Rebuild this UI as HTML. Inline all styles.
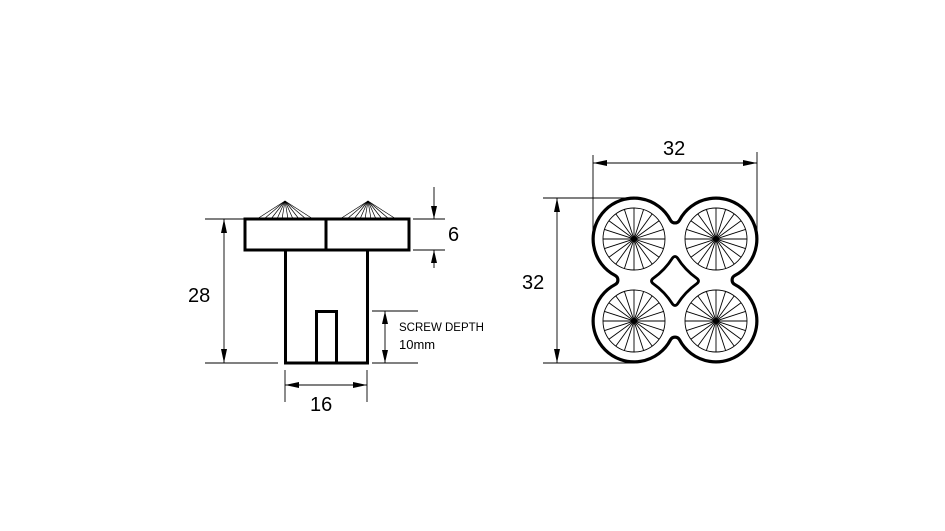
<!DOCTYPE html>
<html><head><meta charset="utf-8"><style>html,body{margin:0;padding:0;background:#fff}svg{display:block}</style></head>
<body>
<svg width="945" height="531" viewBox="0 0 945 531" xmlns="http://www.w3.org/2000/svg" font-family="Liberation Sans, sans-serif">
<defs>
<g id="sp" stroke="#000" stroke-width="0.9">
<circle r="31" fill="none"/>
<line x1="31" y1="0" x2="-31" y2="0"/><line x1="29.48" y1="9.58" x2="-29.48" y2="-9.58"/>
<line x1="25.08" y1="18.22" x2="-25.08" y2="-18.22"/><line x1="18.22" y1="25.08" x2="-18.22" y2="-25.08"/>
<line x1="9.58" y1="29.48" x2="-9.58" y2="-29.48"/><line x1="0" y1="31" x2="0" y2="-31"/>
<line x1="-9.58" y1="29.48" x2="9.58" y2="-29.48"/><line x1="-18.22" y1="25.08" x2="18.22" y2="-25.08"/>
<line x1="-25.08" y1="18.22" x2="25.08" y2="-18.22"/><line x1="-29.48" y1="9.58" x2="29.48" y2="-9.58"/>
<circle r="2.5" fill="#000" stroke="none"/>
</g>
<g id="fan" stroke="#000" stroke-width="0.7">
<line x1="0" y1="0" x2="-28" y2="18"/><line x1="0" y1="0" x2="-21" y2="18"/><line x1="0" y1="0" x2="-14" y2="18"/><line x1="0" y1="0" x2="-8" y2="18"/><line x1="0" y1="0" x2="-3" y2="18"/><line x1="0" y1="0" x2="3" y2="18"/><line x1="0" y1="0" x2="8" y2="18"/><line x1="0" y1="0" x2="14" y2="18"/><line x1="0" y1="0" x2="21" y2="18"/><line x1="0" y1="0" x2="28" y2="18"/>
</g>
</defs>

<!-- side view -->
<use href="#fan" x="285" y="201"/>
<use href="#fan" x="368" y="201"/>
<g fill="none" stroke="#000" stroke-width="3">
<rect x="245" y="219" width="164" height="31"/>
<line x1="326" y1="219" x2="326" y2="250"/>
<rect x="285.5" y="250" width="82" height="113"/>
<rect x="316.5" y="311.5" width="20" height="51.5"/>
</g>
<g stroke="#000" stroke-width="0.9" fill="none">
<line x1="205" y1="219" x2="245" y2="219"/><line x1="205" y1="363" x2="278" y2="363"/>
<line x1="224" y1="219" x2="224" y2="363"/>
<line x1="413" y1="219" x2="445" y2="219"/><line x1="413" y1="250" x2="445" y2="250"/>
<line x1="434" y1="187" x2="434" y2="219"/><line x1="434" y1="250" x2="434" y2="268"/>
<line x1="372" y1="311" x2="418" y2="311"/><line x1="372" y1="363" x2="418" y2="363"/>
<line x1="385" y1="311" x2="385" y2="363"/>
<line x1="285" y1="370" x2="285" y2="402"/><line x1="367" y1="370" x2="367" y2="402"/>
<line x1="285" y1="385" x2="367" y2="385"/>
</g>
<g fill="#000">
<polygon points="224,219 221,233 227,233"/><polygon points="224,363 221,349 227,349"/>
<polygon points="434,219 431,206 437,206"/><polygon points="434,250 431,263 437,263"/>
<polygon points="385,311 382,324 388,324"/><polygon points="385,363 382,350 388,350"/>
<polygon points="285,385 299,382 299,388"/><polygon points="367,385 353,382 353,388"/>
</g>
<text x="188" y="302" font-size="20">28</text>
<text x="448" y="241" font-size="20">6</text>
<text x="310" y="411" font-size="20">16</text>
<text x="399" y="331" font-size="11.5">SCREW DEPTH</text>
<text x="399" y="349" font-size="13">10mm</text>

<!-- top view -->
<path d="M615.2,275.5 A41,41 0 1 1 670.5,220.2 A5.1,5.1 0 0 0 679.5,220.2 A41,41 0 1 1 734.8,275.5 A5.1,5.1 0 0 0 734.8,284.5 A41,41 0 1 1 679.5,339.8 A5.1,5.1 0 0 0 670.5,339.8 A41,41 0 1 1 615.2,284.5 A5.1,5.1 0 0 0 615.2,275.5 Z" fill="none" stroke="#000" stroke-width="3.2"/>
<path d="M672.5,258 Q675,255 677.5,258 Q685,270 697,278.5 Q700,281 697,283.5 Q685,292 677.5,304 Q675,307 672.5,304 Q665,292 653,283.5 Q650,281 653,278.5 Q665,270 672.5,258 Z" fill="none" stroke="#000" stroke-width="2.8"/>
<use href="#sp" x="634" y="239"/><use href="#sp" x="716" y="239"/>
<use href="#sp" x="634" y="321"/><use href="#sp" x="716" y="321"/>
<g stroke="#000" stroke-width="0.9">
<line x1="593" y1="155" x2="593" y2="240"/><line x1="757" y1="152" x2="757" y2="240"/>
<line x1="593" y1="163" x2="757" y2="163"/>
<line x1="543" y1="198" x2="634" y2="198"/><line x1="543" y1="363" x2="634" y2="363"/>
<line x1="557" y1="198" x2="557" y2="363"/>
</g>
<g fill="#000">
<polygon points="593,163 607,160 607,166"/><polygon points="757,163 743,160 743,166"/>
<polygon points="557,198 554,212 560,212"/><polygon points="557,363 554,349 560,349"/>
</g>
<text x="663" y="155" font-size="20">32</text>
<text x="522" y="289" font-size="20">32</text>
</svg>
</body></html>
